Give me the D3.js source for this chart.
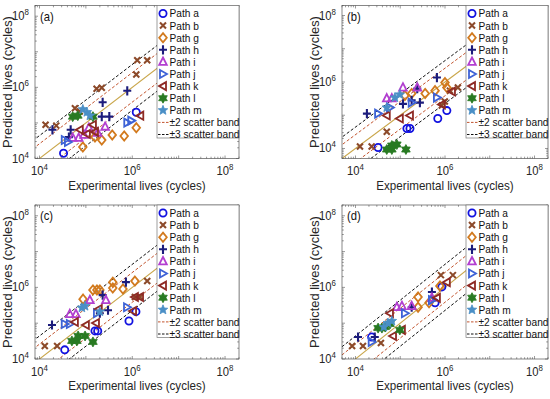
<!DOCTYPE html>
<html>
<head>
<meta charset="utf-8">
<style>
  body { margin: 0; background: #fff; }
  svg text { font-family: "Liberation Sans", Arial, sans-serif; fill: #262626; }
</style>
</head>
<body>
<div id="viz"></div>
<script src="https://cdn.jsdelivr.net/npm/d3@7/dist/d3.min.js"></script>
<script>
const width = 550, height = 399;

const pathNames = ["Path a", "Path b", "Path g", "Path h", "Path i", "Path j", "Path k", "Path l", "Path m"];
const pathKeys = ["a", "b", "g", "h", "i", "j", "k", "l", "m"];
const bandLabels = ["\u00b12 scatter band", "\u00b13 scatter band"];
const panelLabels = ["(a)", "(b)", "(c)", "(d)"];
const xTickLabels = [1e4, 1e6, 1e8];
const yTickLabels = [1e4, 1e6, 1e8];

// [experimental, predicted] lives
const panelA = {
  a: [[3.3e4, 1.4e4], [1.22e6, 2.0e5]],
  b: [[1.35e4, 8.9e4], [2.3e4, 8.4e4], [5.8e4, 2.6e5], [7.4e4, 2.1e5], [1.7e5, 9.1e5], [2.2e5, 9.7e5], [1.28e6, 5.8e6], [1.22e6, 2.3e6], [2.1e6, 5.8e6]],
  g: [[8.6e4, 2.1e4], [1.57e5, 4.0e4], [2.2e5, 3.3e4], [3.7e5, 4.6e4], [6.7e5, 4.3e4], [1.22e6, 7.3e4]],
  h: [[1.9e4, 6.4e4], [4.7e4, 6.4e4], [2.3e5, 3.8e5], [2.2e5, 1.5e5], [3.2e5, 1.5e5], [7.8e5, 8.0e5], [4.3e4, 4.0e4]],
  i: [[5.2e4, 3.8e4], [7.0e4, 3.8e4], [1.16e5, 7.3e4], [1.8e5, 5.3e4], [2.6e5, 7.8e4], [9.1e4, 4.6e4]],
  j: [[3.5e4, 3.3e4], [7.8e5, 1.02e5], [9.5e5, 1.16e5], [4.1e4, 2.9e4]],
  k: [[7.4e4, 6.4e4], [1.42e5, 8.9e4], [1.49e6, 1.6e5], [1.05e5, 4.9e4], [1.57e5, 5.6e4]],
  l: [[5.2e4, 1.5e5], [1.42e5, 1.5e5], [6.7e4, 1.6e5]],
  m: [[8.6e4, 2.4e5], [1.05e5, 2.0e5], [1.22e5, 1.6e5]]
};

const panelB = {
  a: [[3.2e4, 1.07e4], [1.41e5, 4.0e4], [1.65e5, 4.0e4], [6.9e5, 8.0e4], [1.1e6, 1.38e5]],
  b: [[1.26e4, 1.15e4], [2.3e4, 1.15e4], [5.0e4, 3.2e4], [9.9e5, 2.6e5], [8.5e5, 1.96e5], [1.94e6, 6.8e5], [1.29e6, 5.5e5]],
  g: [[1.8e5, 4.5e5], [3.6e5, 4.5e5], [6.0e5, 5.5e5], [1.0e6, 9.6e5], [1.1e6, 6.8e5], [1.27e5, 3.9e5]],
  h: [[1.8e4, 1.12e5], [1.15e5, 2.2e5], [2.4e5, 6.3e5], [2.75e5, 2.4e5], [6.6e5, 1.36e6], [1.8e5, 2.8e5]],
  i: [[5.0e4, 3.2e5], [6.5e4, 3.2e5], [1.15e5, 6.8e5], [2.4e5, 6.8e5]],
  j: [[3.2e4, 1.12e5], [5.9e4, 1.7e5], [1.8e5, 2.4e5], [6.6e5, 3.4e5]],
  k: [[5.0e4, 9.8e4], [9.8e4, 8.0e4], [1.65e5, 9.8e4], [1.43e6, 5.2e5], [8.5e5, 2.1e5]],
  l: [[5.0e4, 9.3e3], [6.5e4, 9.3e3], [6.5e4, 1.23e4], [8.4e4, 1.32e4], [1.34e5, 9.3e3]],
  m: [[7.6e4, 3.4e5], [5.0e4, 1.7e5], [9.8e4, 4.2e5]]
};

const panelC = {
  a: [[3.5e4, 1.8e4], [1.57e5, 6.1e4], [1.8e5, 6.1e4], [8.5e5, 1.15e5], [1.2e6, 2.1e5]],
  b: [[1.3e4, 2.3e4], [2.4e4, 2.3e4], [2.1e6, 1.5e6], [1.14e6, 5.4e5], [1.47e6, 5.4e5]],
  g: [[8.7e4, 4.7e5], [1.42e5, 8.5e5], [1.73e5, 8.5e5], [2.0e5, 8.5e5], [3.8e5, 9.6e5], [3.8e5, 1.4e6], [6.3e5, 9.0e5], [1.14e6, 1.5e6]],
  h: [[1.86e4, 8.9e4], [2.3e5, 6.1e5], [3.0e5, 2.3e5], [2.0e5, 1.9e5], [7.3e5, 1.4e6]],
  i: [[4.5e4, 1.8e5], [6.1e4, 1.8e5], [1.22e5, 4.4e5], [2.7e5, 4.4e5]],
  j: [[3.5e4, 9.5e4], [4.5e4, 9.5e4], [7.7e5, 2.8e5], [1.73e5, 1.9e5]],
  k: [[5.8e4, 1.08e5], [1.0e5, 8.9e4], [1.9e5, 2.5e5], [1.65e5, 1.01e5], [1.14e6, 5.4e5], [1.47e6, 5.4e5], [1.04e6, 2.2e5]],
  l: [[5.0e4, 3.2e4], [6.4e4, 3.2e4], [6.8e4, 4.4e4], [9.6e4, 4.4e4], [1.42e5, 3.0e4]],
  m: [[8.2e4, 2.7e5], [9.6e4, 3.0e5], [2.0e5, 2.1e5]]
};

const panelD = {
  a: [[2.3e4, 4.1e4], [6.0e5, 3.7e5], [8.5e5, 1.03e6]],
  b: [[8.4e3, 2.3e4], [1.47e4, 2.3e4], [3.7e4, 2.8e4], [8.1e5, 2.2e6], [1.5e6, 2.2e6]],
  g: [[2.5e5, 5.4e5], [2.5e5, 2.8e5], [4.4e5, 3.7e5], [7.7e5, 1.1e6]],
  h: [[1.14e4, 4.1e4], [2.7e4, 4.1e4], [5.1e5, 7.4e5], [1.8e5, 2.8e5]],
  i: [[8.4e4, 2.8e5], [1.09e5, 3.0e5], [1.8e5, 3.0e5], [5.1e5, 5.1e5]],
  j: [[2.3e4, 3.0e4], [5.1e5, 4.4e5], [1.27e5, 1.9e5]],
  k: [[5.9e4, 1.9e5], [6.9e4, 4.4e4], [1.09e5, 6.5e4], [6.6e5, 5.1e5], [1.1e6, 1.4e6]],
  l: [[3.2e4, 7.3e4], [3.9e4, 7.3e4], [4.6e4, 7.8e4], [5.9e4, 9.5e4], [9.8e4, 6.5e4]],
  m: [[5.3e4, 1.01e5], [6.5e4, 1.15e5], [4.3e4, 7.8e4]]
};

// offset factor of each dashed band pair as drawn
const bandFactors = [2.6, 4.4];

// styles
const colors = ["#1212e0", "#8c4a2a", "#d27a1e", "#1c1c7c", "#b23fd0", "#3d62d6", "#8e2a24", "#287a22", "#4a8fc6"];
const markers = ["circle", "x", "diamond", "plus", "triUp", "triRight", "triLeft", "hexagram", "pentagram"];
const bandColors = ["#c2542e", "#111111"];
const diagColor = "#c9a64a";

const layouts = [
  {left: 35, right: 239, top: 5.5, bottom: 158.5, xd: [8e3, 2e8], yd: [1e4, 2e8]},
  {left: 342, right: 548, top: 5.5, bottom: 158.5, xd: [5e3, 2e8], yd: [5e3, 2e8]},
  {left: 35, right: 239, top: 205, bottom: 359, xd: [8e3, 2e8], yd: [1e4, 2e8]},
  {left: 342, right: 548, top: 205, bottom: 359, xd: [5e3, 2e8], yd: [1e4, 2e8]}
];

const svg = d3.select("#viz").append("svg")
    .attr("width", width)
    .attr("height", height);

function star(n, ro, ri) {
  const pts = [];
  for (let i = 0; i < 2 * n; i++) {
    const r = i % 2 ? ri : ro;
    const a = -Math.PI / 2 + i * Math.PI / n;
    pts.push([r * Math.cos(a), r * Math.sin(a)]);
  }
  return "M" + pts.map(p => p[0].toFixed(2) + "," + p[1].toFixed(2)).join("L") + "Z";
}

function markerPath(type) {
  switch (type) {
    case "circle": return "M3.6,0A3.6,3.6 0 1,1 -3.6,0A3.6,3.6 0 1,1 3.6,0Z";
    case "x": return "M-3,-3L3,3M-3,3L3,-3";
    case "diamond": return "M0,-4.6L3.8,0L0,4.6L-3.8,0Z";
    case "plus": return "M-4,0H4M0,-4.6V4.6";
    case "triUp": return "M0,-4.4L3.8,3L-3.8,3Z";
    case "triRight": return "M4,0L-3,-4L-3,4Z";
    case "triLeft": return "M-4,0L3,-4L3,4Z";
    case "hexagram": return star(6, 5, 2.9);
    case "pentagram": return star(5, 5, 2.2);
  }
}

function drawMarker(g, type, color, cx, cy) {
  const filled = type === "hexagram" || type === "pentagram";
  g.append("path")
      .attr("d", markerPath(type))
      .attr("transform", `translate(${cx},${cy})`)
      .attr("fill", filled ? color : "none")
      .attr("stroke", color)
      .attr("stroke-width", filled ? 0.8 : (type === "x" || type === "plus" ? 2.1 : 1.8))
      .attr("stroke-linejoin", "miter");
}

// horizontal text, slightly narrowed like the source image
function htext(g, x, y, anchor, size) {
  return g.append("text")
      .attr("transform", `translate(${x},${y}) scale(0.9,1)`)
      .attr("text-anchor", anchor)
      .style("font-size", size + "px");
}

function powerLabel(g, x, y, anchor, v) {
  const t = htext(g, x, y, anchor, 12.5);
  t.append("tspan").text("10");
  t.append("tspan").attr("dy", -5).style("font-size", "8.8px").text(Math.round(Math.log10(v)));
}

function drawPanel(idx, data) {
  const p = layouts[idx];
  const x = d3.scaleLog().domain(p.xd).range([p.left, p.right]);
  const y = d3.scaleLog().domain(p.yd).range([p.bottom, p.top]);
  const g = svg.append("g");

  g.append("clipPath").attr("id", "clip" + idx)
    .append("rect")
      .attr("x", p.left).attr("y", p.top)
      .attr("width", p.right - p.left).attr("height", p.bottom - p.top);

  const plot = g.append("g").attr("clip-path", `url(#clip${idx})`);
  const lo = 1e3, hi = 1e9;

  // y = x and scatter bands
  const lines = [{f: 1, c: diagColor, dash: null}];
  bandFactors.forEach((f, i) => {
    lines.push({f: f, c: bandColors[i], dash: "3,2"});
    lines.push({f: 1 / f, c: bandColors[i], dash: "3,2"});
  });
  lines.forEach(l => {
    plot.append("line")
        .attr("x1", x(lo)).attr("y1", y(lo * l.f))
        .attr("x2", x(hi)).attr("y2", y(hi * l.f))
        .attr("stroke", l.c)
        .attr("stroke-width", l.dash ? 1 : 1.1)
        .attr("stroke-dasharray", l.dash);
  });

  // data
  pathKeys.forEach((k, i) => {
    (data[k] || []).forEach(d => drawMarker(plot, markers[i], colors[i], x(d[0]), y(d[1])));
  });

  // box
  g.append("rect")
      .attr("x", p.left).attr("y", p.top)
      .attr("width", p.right - p.left).attr("height", p.bottom - p.top)
      .attr("fill", "none").attr("stroke", "#555").attr("stroke-width", 0.7);

  // ticks on all sides
  const tk = g.append("g").attr("stroke", "#555").attr("stroke-width", 0.6);
  x.ticks().forEach(v => {
    const major = Math.abs(Math.log10(v) - Math.round(Math.log10(v))) < 1e-9;
    const len = major ? 3 : 1.8;
    const xx = x(v);
    tk.append("line").attr("x1", xx).attr("x2", xx).attr("y1", p.bottom).attr("y2", p.bottom - len);
    tk.append("line").attr("x1", xx).attr("x2", xx).attr("y1", p.top).attr("y2", p.top + len);
  });
  y.ticks().forEach(v => {
    const major = Math.abs(Math.log10(v) - Math.round(Math.log10(v))) < 1e-9;
    const len = major ? 3 : 1.8;
    const yy = y(v);
    tk.append("line").attr("y1", yy).attr("y2", yy).attr("x1", p.left).attr("x2", p.left + len);
    tk.append("line").attr("y1", yy).attr("y2", yy).attr("x1", p.right).attr("x2", p.right - len);
  });

  xTickLabels.forEach(v => powerLabel(g, x(v), p.bottom + 16.5, "middle", v));
  yTickLabels.forEach(v => powerLabel(g, p.left - 6, y(v) + 4, "end", v));

  htext(g, (p.left + p.right) / 2, p.bottom + 31, "middle", 12.9).text("Experimental lives (cycles)");
  g.append("text")
      .attr("transform", `translate(${p.left - 23},${(p.top + p.bottom) / 2}) rotate(-90)`)
      .attr("text-anchor", "middle")
      .style("font-size", "12.9px")
      .text("Predicted lives (cycles)");

  htext(g, p.left + 5, p.top + 15, "start", 12.5).style("fill", "#111").text(panelLabels[idx]);

  // legend
  const lw = 82, rowH = 12.1;
  const lx = p.right - lw, ly = p.top;
  const leg = g.append("g");
  leg.append("rect")
      .attr("x", lx).attr("y", ly)
      .attr("width", lw).attr("height", 11 * rowH - 0.6)
      .attr("fill", "#fff").attr("stroke", "#777").attr("stroke-width", 0.7);
  pathNames.forEach((name, i) => {
    const cy = ly + 8 + i * rowH;
    drawMarker(leg, markers[i], colors[i], lx + 6, cy);
    htext(leg, lx + 12.5, cy + 3.9, "start", 11.3).style("fill", "#111").text(name);
  });
  bandLabels.forEach((name, i) => {
    const cy = ly + 8 + (9 + i) * rowH;
    leg.append("line")
        .attr("x1", lx + 1).attr("x2", lx + 12)
        .attr("y1", cy).attr("y2", cy)
        .attr("stroke", bandColors[i]).attr("stroke-width", 1)
        .attr("stroke-dasharray", "2.5,1.5");
    htext(leg, lx + 12.5, cy + 3.9, "start", 11.3).style("fill", "#111").text(name);
  });
}

[panelA, panelB, panelC, panelD].forEach((d, i) => drawPanel(i, d));
</script>
</body>
</html>
